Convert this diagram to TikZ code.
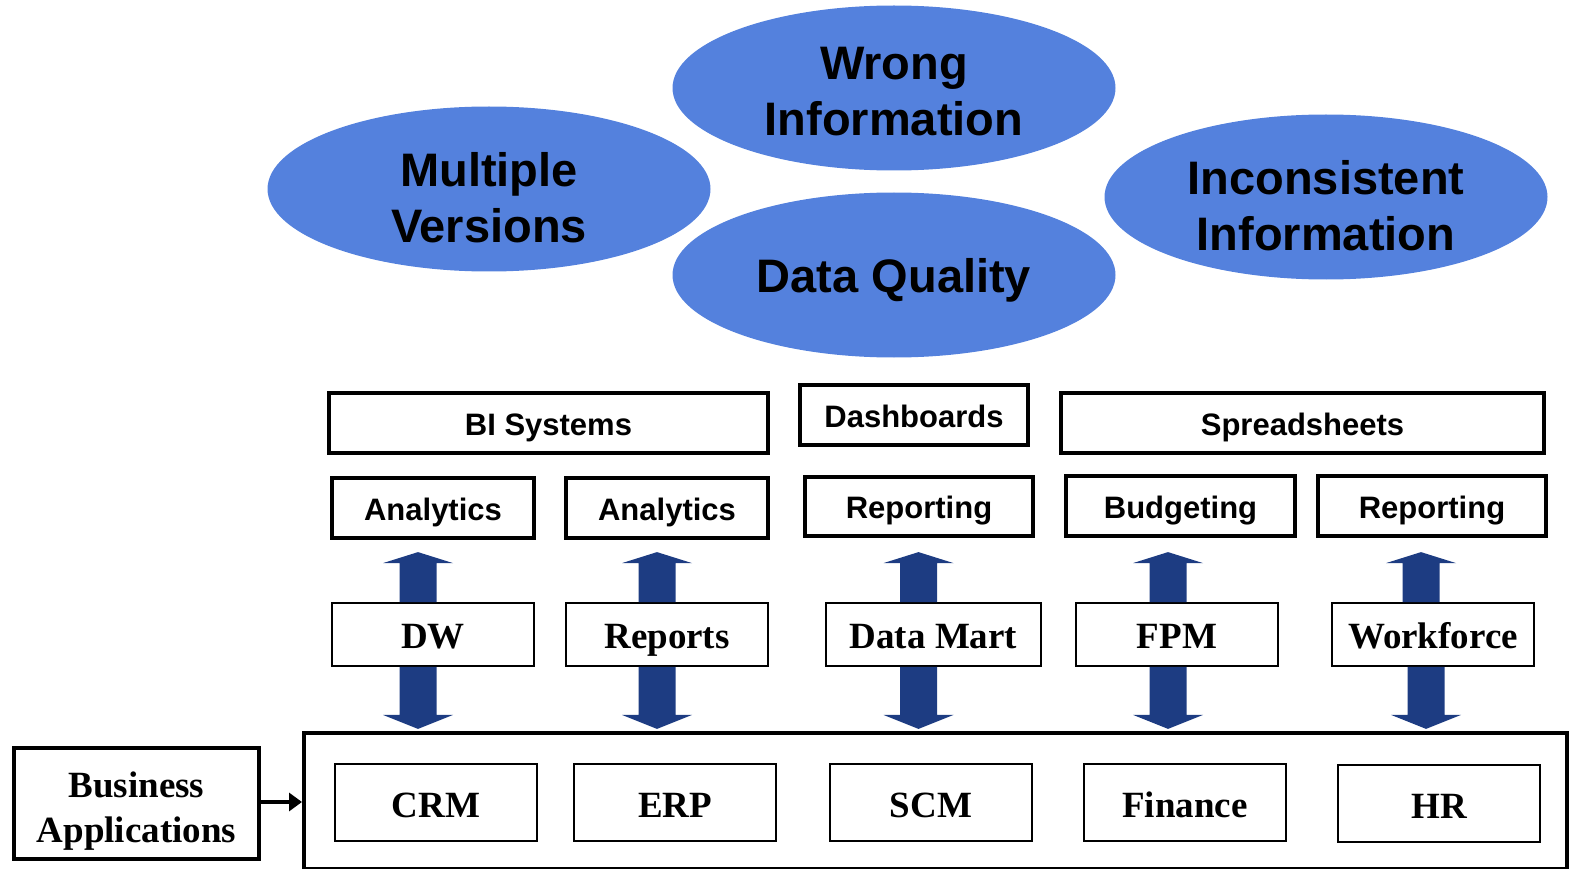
\documentclass[tikz,border=0pt]{standalone}
\usepackage{fontspec}
\setmainfont{Liberation Serif}
\setsansfont{Liberation Sans}
\usetikzlibrary{arrows.meta,shapes.geometric}
\definecolor{bubblefill}{RGB}{84,129,221}
\definecolor{flowblue}{RGB}{29,60,130}
\tikzset{
  upflow/.pic={\fill[flowblue] (-18.5,0) -- (-18.5,-39) -- (-35,-39) -- (0,-50) -- (35,-39) -- (18.5,-39) -- (18.5,0) -- cycle;},
  downflow/.pic={\fill[flowblue] (-18.5,0) -- (-18.5,48) -- (-35,48) -- (0,62) -- (35,48) -- (18.5,48) -- (18.5,0) -- cycle;}
}
\begin{document}
\begin{tikzpicture}[x=1pt,y=-1pt,
  bubble/.style={ellipse, fill=bubblefill, minimum width=443pt, minimum height=165pt,
    inner sep=0pt, align=center, font=\sffamily\bfseries\fontsize{47}{56}\selectfont},
  toolbox/.style={draw, line width=4pt, inner sep=0pt, text height=24pt, text depth=0pt,
    font=\sffamily\bfseries\fontsize{31}{36}\selectfont},
  srcbox/.style={draw, line width=1.8pt, inner sep=0pt, minimum width=202pt, minimum height=63pt,
    text height=28.5pt, text depth=0pt, font=\rmfamily\bfseries\fontsize{37}{44}\selectfont},
  appbox/.style={draw, line width=1.8pt, inner sep=0pt, minimum width=202pt, minimum height=77pt,
    text height=29pt, text depth=0pt, font=\rmfamily\bfseries\fontsize{37}{44}\selectfont}
]
\useasboundingbox (0,0) rectangle (1572,869);

% problem bubbles
\node[bubble, text height=108pt] (multi) at (489,189) {Multiple\\Versions};
\node[bubble, text height=96pt] (wrong) at (894,88) {Wrong\\Information};
\node[bubble, text height=108pt] (incons) at (1326,197) {Inconsistent\\Information};
\node[bubble, text height=34pt, text depth=0pt] (quality) at (894,275) {Data Quality};

% consuming tools
\node[toolbox, minimum width=439pt, minimum height=60pt] (bi) at (548.5,423) {BI Systems};
\node[toolbox, minimum width=228pt, minimum height=60pt] (dash) at (914,415) {Dashboards};
\node[toolbox, minimum width=483pt, minimum height=60pt] (sheet) at (1302.5,423) {Spreadsheets};
\node[toolbox, minimum width=202pt, minimum height=60pt] (an1) at (433,508) {Analytics};
\node[toolbox, minimum width=202pt, minimum height=60pt] (an2) at (667,508) {Analytics};
\node[toolbox, minimum width=228pt, minimum height=59pt] (rep1) at (919,506.5) {Reporting};
\node[toolbox, minimum width=229pt, minimum height=60pt] (bud) at (1180.5,506) {Budgeting};
\node[toolbox, minimum width=228pt, minimum height=60pt] (rep2) at (1432,506) {Reporting};

% data sources
\node[srcbox] (dw) at (433,634.5) {DW};
\node[srcbox] (reports) at (667,634.5) {Reports};
\node[srcbox, minimum width=215pt] (mart) at (933.5,634.5) {Data Mart};
\node[srcbox] (fpm) at (1177,634.5) {FPM};
\node[srcbox] (work) at (1433,634.5) {Workforce};

% business applications
\node[draw, line width=4pt, minimum width=1263pt, minimum height=136pt, inner sep=0pt] (apps) at (935.5,801) {};
\node[appbox] (crm) at (436,802.5) {CRM};
\node[appbox] (erp) at (675,802.5) {ERP};
\node[appbox] (scm) at (931,802.5) {SCM};
\node[appbox] (fin) at (1185,802.5) {Finance};
\node[appbox] (hr) at (1439,803.5) {HR};

\node[draw, line width=4pt, minimum width=245pt, minimum height=111pt, inner sep=0pt, align=center,
  text height=85.5pt, font=\rmfamily\bfseries\fontsize{37}{45}\selectfont] (biz) at (136.5,803.5) {Business\\Applications};
\draw[line width=4.5pt, -{Triangle[width=18pt,length=13pt]}] ([yshift=1.5pt]biz.east) -- ([yshift=1.5pt]apps.west |- biz.east);

% flows between sources, tools and applications
\pic at ([xshift=-15pt]dw.north) {upflow};
\pic at ([xshift=-15pt]dw.south) {downflow};
\pic at ([xshift=-10pt]reports.north) {upflow};
\pic at ([xshift=-10pt]reports.south) {downflow};
\pic at ([xshift=-15pt]mart.north) {upflow};
\pic at ([xshift=-15pt]mart.south) {downflow};
\pic at ([xshift=-9pt]fpm.north) {upflow};
\pic at ([xshift=-9pt]fpm.south) {downflow};
\pic at ([xshift=-12pt]work.north) {upflow};
\pic at ([xshift=-7pt]work.south) {downflow};
\end{tikzpicture}
\end{document}
